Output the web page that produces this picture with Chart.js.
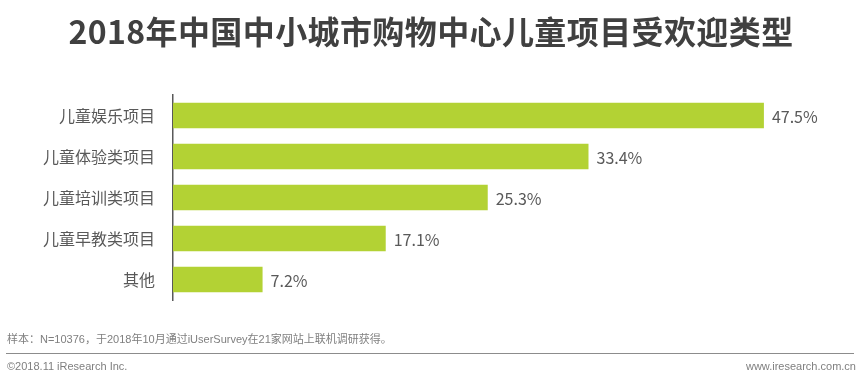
<!DOCTYPE html>
<html>
<head>
<meta charset="utf-8">
<script src="https://cdn.jsdelivr.net/npm/chart.js@4/dist/chart.umd.min.js"></script>
<style>
  html, body { margin: 0; padding: 0; background: #ffffff; }
  body { width: 864px; height: 378px; position: relative; overflow: hidden;
         font-family: "Noto Sans CJK SC", "Noto Sans", sans-serif; }
  #title { position: absolute; left: 0; top: 8px; width: 862px; text-align: center;
           font-size: 32px; font-weight: bold; color: #404040; line-height: 44px; letter-spacing: 0.4px; }
  #chartWrap { position: absolute; left: 0; top: 0; width: 864px; height: 378px; }
  .foot { position: absolute; font-family: "Liberation Sans", "Noto Sans CJK SC", sans-serif;
          font-size: 11px; color: #7f7f7f; line-height: 14px; }
  #source { left: 7px; top: 332px; font-size: 11px; }
  #rule { position: absolute; left: 6px; top: 353px; width: 848px; height: 0; border-top: 1.5px solid #8c8c8c; }
  #copy { left: 7px; top: 359px; }
  #site { right: 8px; top: 359px; }
</style>
</head>
<body>
<div id="chartWrap"><canvas id="c" width="864" height="378"></canvas></div>
<div id="title">2018年中国中小城市购物中心儿童项目受欢迎类型</div>
<div id="source" class="foot">样本：N=10376，于2018年10月通过iUserSurvey在21家网站上联机调研获得。</div>
<div id="rule"></div>
<div id="copy" class="foot">©2018.11 iResearch Inc.</div>
<div id="site" class="foot">www.iresearch.com.cn</div>
<script>
const categories = ["儿童娱乐项目", "儿童体验类项目", "儿童培训类项目", "儿童早教类项目", "其他"];
const values = [47.5, 33.4, 25.3, 17.1, 7.2];
const valueLabels = ["47.5%", "33.4%", "25.3%", "17.1%", "7.2%"];

const valueLabelPlugin = {
  id: "valueLabels",
  afterDatasetsDraw(chart) {
    const ctx = chart.ctx;
    const meta = chart.getDatasetMeta(0);
    ctx.save();
    ctx.font = '16px "Noto Sans CJK SC", "Noto Sans", sans-serif';
    ctx.fillStyle = "#595959";
    ctx.textAlign = "left";
    ctx.textBaseline = "middle";
    meta.data.forEach((bar, i) => {
      ctx.fillText(valueLabels[i], bar.x + 8, bar.y + 1);
    });
    ctx.restore();
  }
};

new Chart(document.getElementById("c"), {
  type: "bar",
  data: {
    labels: categories,
    datasets: [{
      data: values,
      backgroundColor: "#b3d234",
      borderWidth: 0,
      categoryPercentage: 0.62,
      barPercentage: 1.0
    }]
  },
  options: {
    indexAxis: "y",
    responsive: false,
    animation: false,
    events: [],
    layout: { padding: { left: 0, right: 69, top: 95, bottom: 78 } },
    plugins: { legend: { display: false }, tooltip: { enabled: false } },
    scales: {
      x: { display: false, min: 0, max: 50 },
      y: {
        afterFit(scale) { scale.width = 173; },
        grid: { display: false },
        border: { display: true, color: "#595959", width: 1.5 },
        ticks: {
          padding: 10,
          color: "#595959",
          font: { family: '"Noto Sans CJK SC", "Noto Sans", sans-serif', size: 16 }
        }
      }
    }
  },
  plugins: [valueLabelPlugin]
});
</script>
</body>
</html>
